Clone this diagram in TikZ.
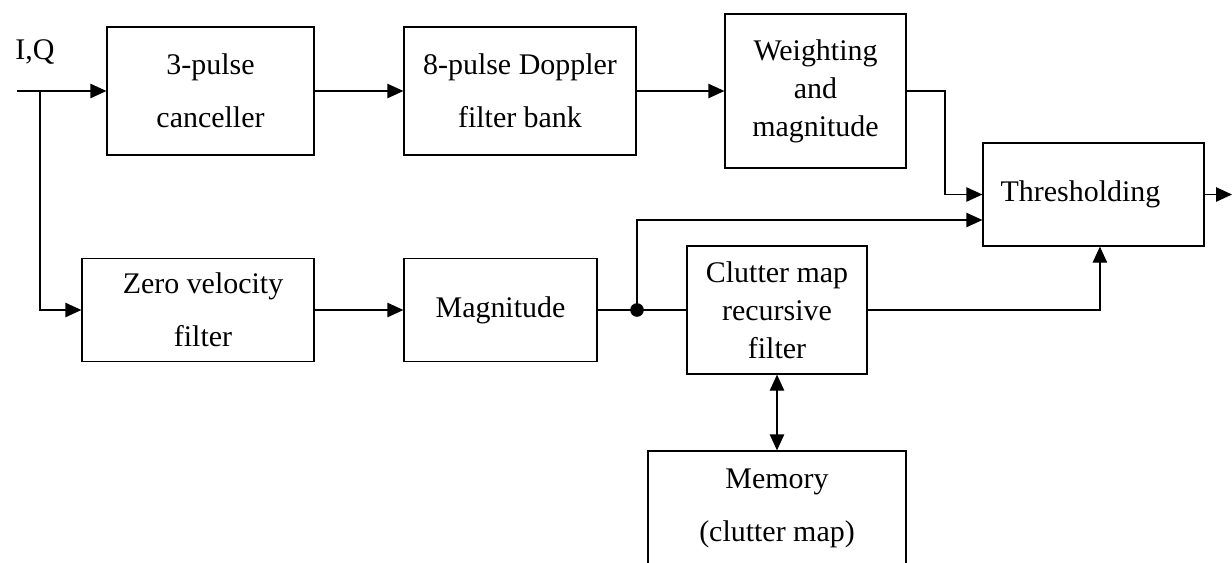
\documentclass[tikz,border=0pt]{standalone}
\usepackage{fontspec}
\setmainfont{Liberation Serif}
\usetikzlibrary{arrows.meta, positioning, calc}

\begin{document}
\begin{tikzpicture}[
	blk/.style={draw, line width=0.9pt, inner sep=0pt, align=center, font=\fontsize{21.3}{27}\selectfont},
	wire/.style={line width=0.9pt},
	arr/.style={wire, -{Triangle[length=0.4cm, width=0.36cm]}}
	]
	\clip (0,0) rectangle (30.8,-14.05);
	
	% Upper chain
	\node[font=\fontsize{21.3}{27}\selectfont] (iq) at (0.875,-1.3) {I,Q};
	\coordinate (in) at (0.425,-2.275);
	\coordinate (split) at (1.0,-2.275);
	\node[blk, minimum width=5.175cm, minimum height=3.2cm] (canc) at (5.2625,-2.275) {3-pulse\\[10.7pt]canceller};
	\node[blk, minimum width=5.8cm, minimum height=3.2cm] (dopp) at (13.0,-2.275) {8-pulse Doppler\\[10.7pt]filter bank};
	\node[blk, minimum width=4.525cm, minimum height=3.85cm] (wmag) at (20.3875,-2.275) {Weighting\\and\\magnitude};
	\node[blk, minimum width=5.525cm, minimum height=2.575cm] (thr) at (27.3375,-4.8625) {Thresholding\hspace{0.65cm}};
	\coordinate (out) at (30.8,-4.8625);
	
	% Lower chain
	\node[blk, minimum width=5.8cm, minimum height=2.575cm] (zvf) at (4.95,-7.75) {\hspace{0.25cm}Zero velocity\\[10.7pt]\hspace{0.25cm}filter};
	\node[blk, minimum width=4.825cm, minimum height=2.575cm] (mag) at (12.5125,-7.75) {Magnitude};
	\coordinate (tap) at (15.925,-7.75);
	\node[blk, minimum width=4.5cm, minimum height=3.2cm] (cmap) at (19.425,-7.75) {Clutter map\\recursive\\filter};
	\node[blk, minimum width=6.45cm, minimum height=2.85cm] (mem) at (19.425,-12.7) {Memory\\[10.7pt](clutter map)};
	
	% Connections
	\draw[arr] (in) -- (canc);
	\draw[arr] (split) |- (zvf.west);
	\draw[arr] (canc) -- (dopp);
	\draw[arr] (dopp) -- (wmag);
	\draw[arr] (wmag.east) -- (23.625,-2.275) |- (thr.west);
	\draw[arr] (zvf) -- (mag);
	\draw[wire] (mag.east) -- (tap) -- (cmap.west);
	\fill (tap) circle (0.17cm);
	\draw[arr] (tap) |- ([yshift=-0.6375cm]thr.west);
	\draw[arr] (cmap.east) -| ([xshift=0.16cm]thr.south);
	\draw[arr] (thr.east) -- (out);
	\draw[wire, {Triangle[length=0.4cm, width=0.36cm]}-{Triangle[length=0.4cm, width=0.36cm]}] (cmap.south) -- (mem.north);
\end{tikzpicture}
\end{document}
